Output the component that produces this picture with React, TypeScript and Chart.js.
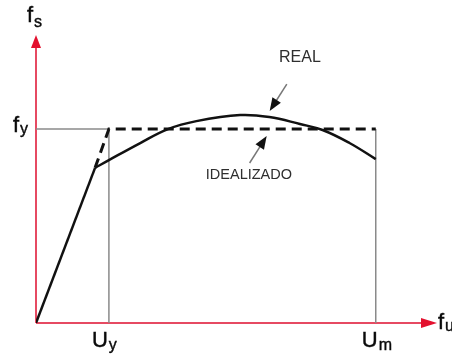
import React, { useEffect, useRef } from "react";
import { Chart, registerables } from "chart.js";

Chart.register(...registerables);

// ---- data (normalised: strain / Uy, stress / fy) ----
const elasticX = [0, 0.81];
const elasticY = [0, 0.8];
const realX = [0.81, 1.0, 1.43, 1.81, 2.2, 2.8, 3.2, 3.62, 3.93, 4.3, 4.66];
const realY = [0.8, 0.84, 0.928, 1.0, 1.041, 1.072, 1.062, 1.026, 0.995, 0.928, 0.845];
const idealX = [0.81, 1.0, 4.66];
const idealY = [0.8, 1.0, 1.0];
const yieldStrain = 1.0; // Uy
const ultimateStrain = 4.66; // Um
const yieldStress = 1.0; // fy
const axisMaxX = 5.5;
const axisMaxY = 1.485;

const pts = (xs: number[], ys: number[]) => xs.map((x, i) => ({ x, y: ys[i] }));

const FONT = "'Liberation Sans', Arial, sans-serif";

function drawArrowHead(ctx: CanvasRenderingContext2D, x0: number, y0: number, x1: number, y1: number, len: number, half: number, color: string) {
  const a = Math.atan2(y1 - y0, x1 - x0);
  ctx.save();
  ctx.fillStyle = color;
  ctx.beginPath();
  ctx.moveTo(x1, y1);
  ctx.lineTo(x1 - len * Math.cos(a) + half * Math.sin(a), y1 - len * Math.sin(a) - half * Math.cos(a));
  ctx.lineTo(x1 - len * Math.cos(a) - half * Math.sin(a), y1 - len * Math.sin(a) + half * Math.cos(a));
  ctx.closePath();
  ctx.fill();
  ctx.restore();
}

function subLabel(ctx: CanvasRenderingContext2D, main: string, sub: string, x: number, y: number, subDy: number) {
  ctx.save();
  ctx.fillStyle = "#0a0a0a";
  ctx.strokeStyle = "#0a0a0a";
  ctx.lineWidth = 0.4;
  ctx.textBaseline = "alphabetic";
  ctx.textAlign = "left";
  ctx.font = `22px ${FONT}`;
  ctx.fillText(main, x, y);
  ctx.strokeText(main, x, y);
  const w = ctx.measureText(main).width;
  ctx.font = `16px ${FONT}`;
  ctx.fillText(sub, x + w + 1, y + subDy);
  ctx.strokeText(sub, x + w + 1, y + subDy);
  ctx.restore();
}

const diagramPlugin = {
  id: "diagram",
  beforeDatasetsDraw(chart: any) {
    const { ctx, chartArea, scales } = chart;
    const xs = scales.x, ys = scales.y;
    const ox = xs.getPixelForValue(0), oy = ys.getPixelForValue(0);
    const red = "#e64a62";
    ctx.save();
    ctx.strokeStyle = red;
    ctx.lineWidth = 2;
    ctx.beginPath();
    ctx.moveTo(ox, oy);
    ctx.lineTo(ox, chartArea.top + 10);
    ctx.moveTo(ox, oy);
    ctx.lineTo(chartArea.right - 10, oy);
    ctx.stroke();
    ctx.restore();
    drawArrowHead(ctx, ox, oy, ox, chartArea.top, 13, 5, "#e3102e");
    drawArrowHead(ctx, ox, oy, chartArea.right, oy, 16, 5, "#e3102e");
  },
  afterDatasetsDraw(chart: any) {
    const { ctx, chartArea, scales } = chart;
    const xs = scales.x, ys = scales.y;
    const ox = xs.getPixelForValue(0), oy = ys.getPixelForValue(0);
    // axis labels
    subLabel(ctx, "f", "s", ox - 9, chartArea.top - 13, 5);
    subLabel(ctx, "f", "y", ox - 23, ys.getPixelForValue(yieldStress) + 3, 2);
    subLabel(ctx, "U", "y", xs.getPixelForValue(yieldStrain) - 17, oy + 24, 3);
    subLabel(ctx, "U", "m", xs.getPixelForValue(ultimateStrain) - 14, oy + 24, 3);
    subLabel(ctx, "f", "u", chartArea.right + 1, oy + 6, 2);

    // annotations
    ctx.save();
    ctx.fillStyle = "#2e2e2e";
    ctx.textAlign = "center";
    ctx.textBaseline = "alphabetic";
    ctx.font = `16px ${FONT}`;
    ctx.fillText("REAL", xs.getPixelForValue(3.62), ys.getPixelForValue(1.345));
    ctx.font = `14.5px ${FONT}`;
    ctx.fillText("IDEALIZADO", xs.getPixelForValue(2.92), ys.getPixelForValue(0.742));
    ctx.restore();

    const arrow = (tx: number, ty: number, hx: number, hy: number) => {
      const x0 = xs.getPixelForValue(tx), y0 = ys.getPixelForValue(ty);
      const x1 = xs.getPixelForValue(hx), y1 = ys.getPixelForValue(hy);
      const a = Math.atan2(y1 - y0, x1 - x0);
      ctx.save();
      ctx.strokeStyle = "#777";
      ctx.lineWidth = 1.5;
      ctx.beginPath();
      ctx.moveTo(x0, y0);
      ctx.lineTo(x1 - 8 * Math.cos(a), y1 - 8 * Math.sin(a));
      ctx.stroke();
      ctx.restore();
      drawArrowHead(ctx, x0, y0, x1, y1, 13, 5, "#111");
    };
    arrow(3.44, 1.232, 3.205, 1.093);
    arrow(2.93, 0.825, 3.164, 0.964);
  },
};

export default function App() {
  const ref = useRef<HTMLCanvasElement | null>(null);
  useEffect(() => {
    if (!ref.current) return;
    const gray = "#8a8a8a";
    const chart = new Chart(ref.current, {
      type: "scatter",
      data: {
        datasets: [
          {
            data: pts(elasticX, elasticY),
            showLine: true,
            borderColor: "#111",
            borderWidth: 2.5,
            pointRadius: 0,
            order: 1,
          },
          {
            data: pts(realX, realY),
            showLine: true,
            borderColor: "#111",
            borderWidth: 2.5,
            pointRadius: 0,
            tension: 0.4,
            order: 1,
          },
          {
            data: pts(idealX, idealY),
            showLine: true,
            borderColor: "#111",
            borderWidth: 3,
            borderDash: [10, 6],
            pointRadius: 0,
            order: 2,
          },
          {
            data: [
              { x: 0, y: yieldStress },
              { x: yieldStrain, y: yieldStress },
              { x: yieldStrain, y: 0 },
            ],
            showLine: true,
            borderColor: gray,
            borderWidth: 1.5,
            pointRadius: 0,
            order: 3,
          },
          {
            data: [
              { x: ultimateStrain, y: yieldStress },
              { x: ultimateStrain, y: 0 },
            ],
            showLine: true,
            borderColor: gray,
            borderWidth: 1.5,
            pointRadius: 0,
            order: 3,
          },
        ],
      },
      options: {
        animation: false,
        responsive: false,
        layout: { padding: { left: 36, right: 15, top: 35, bottom: 37 } },
        scales: {
          x: { type: "linear", min: 0, max: axisMaxX, display: false },
          y: { type: "linear", min: 0, max: axisMaxY, display: false },
        },
        plugins: { legend: { display: false }, tooltip: { enabled: false } },
      },
      plugins: [diagramPlugin],
    });
    return () => chart.destroy();
  }, []);
  return (
    <div style={{ position: "fixed", left: 0, top: 0, width: 452, height: 360, background: "#fff" }}>
      <canvas ref={ref} width={452} height={360} />
    </div>
  );
}
